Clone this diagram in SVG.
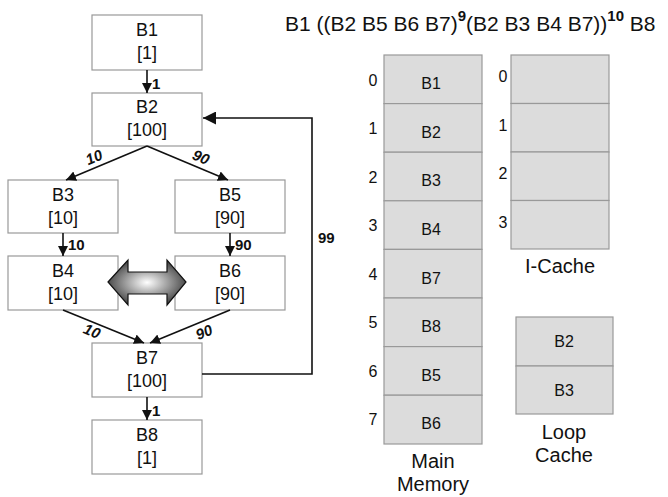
<svg xmlns="http://www.w3.org/2000/svg" width="668" height="497" viewBox="0 0 668 497">
<defs>
<style>
.node rect{fill:#fff;stroke:#999;stroke-width:1.2}
.nt{font-family:"Liberation Sans",Arial,sans-serif;font-size:18px;fill:#111;text-anchor:middle}
.el{font-family:"Liberation Sans",Arial,sans-serif;font-size:15px;font-weight:bold;fill:#111}
.eli{font-family:"Liberation Sans",Arial,sans-serif;font-size:15px;font-weight:bold;font-style:italic;fill:#111;text-anchor:middle}
.cell{fill:#dcdcdc;stroke:#999;stroke-width:1.2}
.ct{font-family:"Liberation Sans",Arial,sans-serif;font-size:16px;fill:#111;text-anchor:middle}
.num{font-family:"Liberation Sans",Arial,sans-serif;font-size:16px;fill:#111;text-anchor:middle}
.lab{font-family:"Liberation Sans",Arial,sans-serif;font-size:20px;fill:#111;text-anchor:middle}
.conn{fill:none;stroke:#111;stroke-width:1.6}
</style>
<marker id="ah" viewBox="0 0 10 10" refX="10" refY="5" markerWidth="10" markerHeight="10" markerUnits="userSpaceOnUse" orient="auto">
<path d="M0,0 L10,5 L0,10 z" fill="#111"/>
</marker>
<marker id="ah2" viewBox="0 0 10 10" refX="10" refY="5" markerWidth="13" markerHeight="13" markerUnits="userSpaceOnUse" orient="auto">
<path d="M0,0 L10,5 L0,10 z" fill="#111"/>
</marker>
<radialGradient id="g" cx="0.5" cy="0.5" r="0.55">
<stop offset="0" stop-color="#ffffff"/>
<stop offset="1" stop-color="#3a3a3a"/>
</radialGradient>
</defs>
<rect width="668" height="497" fill="#fff"/>

<text x="285" y="31" font-family="Liberation Sans, Arial, sans-serif" font-size="21" fill="#111">B1 ((B2 B5 B6 B7)<tspan font-size="15" font-weight="bold" dy="-10">9</tspan><tspan dy="10">(B2 B3 B4 B7))</tspan><tspan font-size="15" font-weight="bold" dy="-10">10</tspan><tspan dy="10">  B8</tspan></text>

<g id="B1" class="node"><rect x="92" y="15" width="110" height="55"/><text class="nt" x="147" y="36">B1</text><text class="nt" x="147" y="59">[1]</text></g>
<g id="B2" class="node"><rect x="92" y="93" width="110" height="53"/><text class="nt" x="147" y="113">B2</text><text class="nt" x="147" y="136">[100]</text></g>
<g id="B3" class="node"><rect x="8" y="180" width="110" height="53"/><text class="nt" x="63" y="201">B3</text><text class="nt" x="63" y="224">[10]</text></g>
<g id="B5" class="node"><rect x="175" y="180" width="110" height="53"/><text class="nt" x="230" y="201">B5</text><text class="nt" x="230" y="224">[90]</text></g>
<g id="B4" class="node"><rect x="8" y="256" width="110" height="54"/><text class="nt" x="63" y="277">B4</text><text class="nt" x="63" y="300">[10]</text></g>
<g id="B6" class="node"><rect x="175" y="256" width="110" height="54"/><text class="nt" x="230" y="277">B6</text><text class="nt" x="230" y="300">[90]</text></g>
<g id="B7" class="node"><rect x="92" y="343" width="110" height="54"/><text class="nt" x="147" y="364">B7</text><text class="nt" x="147" y="387">[100]</text></g>
<g id="B8" class="node"><rect x="92" y="420" width="110" height="54"/><text class="nt" x="147" y="441">B8</text><text class="nt" x="147" y="464">[1]</text></g>

<g id="connectors">
<line class="conn" x1="147" y1="70" x2="147" y2="93" marker-end="url(#ah)"/>
<text class="el" x="152" y="89">1</text>
<line class="conn" x1="147" y1="146" x2="66" y2="180" marker-end="url(#ah)"/>
<text class="eli" x="96" y="162" transform="rotate(-22.5 96 162)">10</text>
<line class="conn" x1="147" y1="146" x2="228" y2="180" marker-end="url(#ah)"/>
<text class="eli" x="199" y="162" transform="rotate(22.5 199 162)">90</text>
<line class="conn" x1="63" y1="233" x2="63" y2="256" marker-end="url(#ah)"/>
<text class="el" x="68" y="250">10</text>
<line class="conn" x1="230" y1="233" x2="230" y2="256" marker-end="url(#ah)"/>
<text class="el" x="235" y="250">90</text>
<line class="conn" x1="63" y1="310" x2="144" y2="343" marker-end="url(#ah)"/>
<text class="eli" x="90" y="336" transform="rotate(22.5 90 336)">10</text>
<line class="conn" x1="230" y1="310" x2="150" y2="343" marker-end="url(#ah)"/>
<text class="eli" x="206" y="337" transform="rotate(-22.5 206 337)">90</text>
<line class="conn" x1="147" y1="397" x2="147" y2="420" marker-end="url(#ah)"/>
<text class="el" x="152" y="416">1</text>
<polyline class="conn" points="202,374 312,374 312,118 203,118" marker-end="url(#ah2)"/>
<text class="el" x="318" y="243">99</text>
<path d="M108,282 L128,260 L128,272 L167,272 L167,260 L186,282 L167,305 L167,294 L128,294 L128,305 Z" fill="url(#g)" stroke="#111" stroke-width="1.2"/>
</g>

<g id="main-memory">
<rect class="cell" x="384" y="55" width="98" height="48.6"/>
<rect class="cell" x="384" y="103.6" width="98" height="48.6"/>
<rect class="cell" x="384" y="152.2" width="98" height="48.6"/>
<rect class="cell" x="384" y="200.8" width="98" height="48.6"/>
<rect class="cell" x="384" y="249.4" width="98" height="48.6"/>
<rect class="cell" x="384" y="298" width="98" height="48.6"/>
<rect class="cell" x="384" y="346.6" width="98" height="48.6"/>
<rect class="cell" x="384" y="395.2" width="98" height="48.8"/>
<text class="ct" x="431" y="89">B1</text>
<text class="ct" x="431" y="138">B2</text>
<text class="ct" x="431" y="186">B3</text>
<text class="ct" x="431" y="235">B4</text>
<text class="ct" x="431" y="284">B7</text>
<text class="ct" x="431" y="332">B8</text>
<text class="ct" x="431" y="381">B5</text>
<text class="ct" x="431" y="429">B6</text>
<text class="num" x="373" y="86">0</text>
<text class="num" x="373" y="134">1</text>
<text class="num" x="373" y="183">2</text>
<text class="num" x="373" y="231">3</text>
<text class="num" x="373" y="280">4</text>
<text class="num" x="373" y="328">5</text>
<text class="num" x="373" y="377">6</text>
<text class="num" x="373" y="425">7</text>
<text class="lab" x="433" y="468">Main</text>
<text class="lab" x="433" y="491">Memory</text>
</g>

<g id="i-cache">
<rect class="cell" x="511" y="55" width="98" height="48.5"/>
<rect class="cell" x="511" y="103.5" width="98" height="48.5"/>
<rect class="cell" x="511" y="152" width="98" height="48.5"/>
<rect class="cell" x="511" y="200.5" width="98" height="48.5"/>
<text class="num" x="503" y="82">0</text>
<text class="num" x="503" y="131">1</text>
<text class="num" x="503" y="179">2</text>
<text class="num" x="503" y="228">3</text>
<text class="lab" x="560" y="273">I-Cache</text>
</g>

<g id="loop-cache">
<rect class="cell" x="516" y="317" width="97" height="49"/>
<rect class="cell" x="516" y="366" width="97" height="48"/>
<text class="ct" x="564" y="347">B2</text>
<text class="ct" x="564" y="396">B3</text>
<text class="lab" x="564" y="439">Loop</text>
<text class="lab" x="564" y="462">Cache</text>
</g>
</svg>
